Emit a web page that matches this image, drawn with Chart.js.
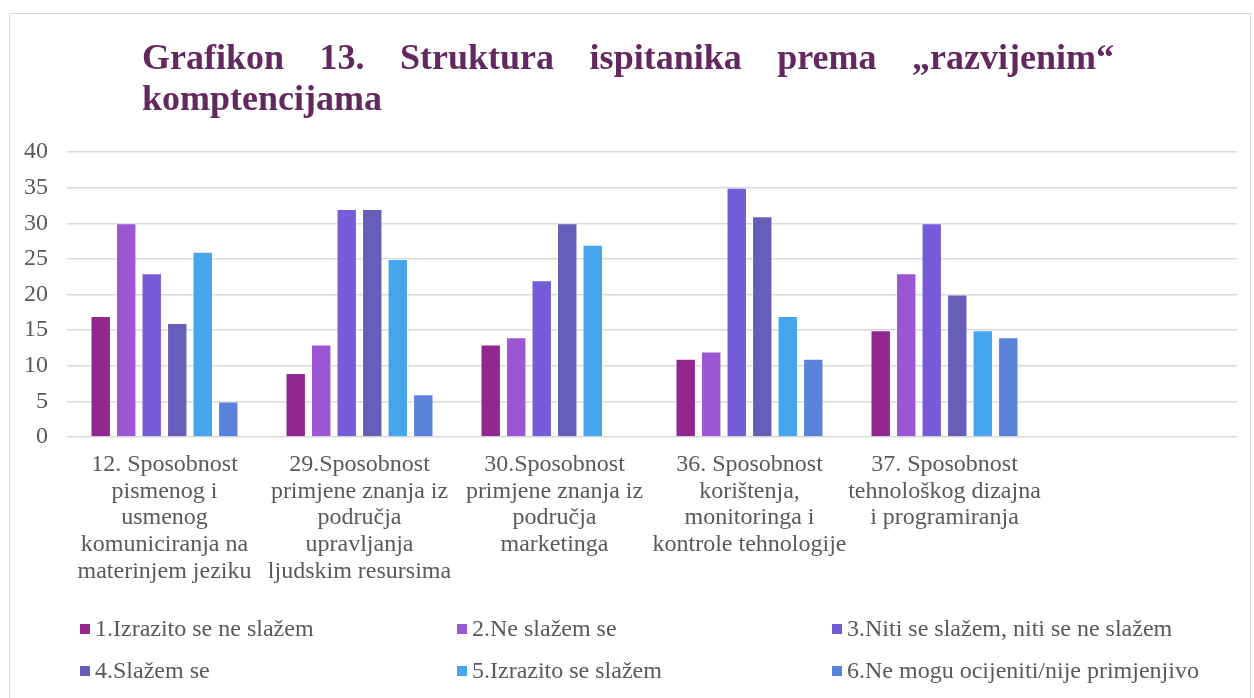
<!DOCTYPE html>
<html lang="sr">
<head>
    <meta charset="UTF-8" />
    <title>Grafikon 13</title>
    <script src="https://cdn.jsdelivr.net/npm/chart.js"></script>
    <style>
        * { box-sizing: border-box; margin: 0; padding: 0; }
        body { background: #fff; width: 1254px; height: 698px; overflow: hidden; }
        #wrap { position: relative; width: 1254px; height: 698px; }
        #frame {
            position: absolute; left: 9px; top: 13px; width: 1242px; height: 700px;
            border: 1.5px solid #d9d9d9;
        }
        canvas { position: absolute; left: 0; top: 0; }
        #title {
            position: absolute; left: 142px; top: 37px; width: 972px;
            font-family: 'Liberation Serif', 'Times New Roman', serif;
            font-weight: bold; font-size: 36px; line-height: 41px; color: #63295f;
        }
        #title .l1 { text-align: justify; text-align-last: justify; }
        #legend {
            position: absolute; left: 80px; top: 615px; width: 1140px;
            display: grid; grid-template-columns: 377px 375px 388px; row-gap: 15px;
            font-family: 'Liberation Serif', 'Times New Roman', serif;
            font-size: 24px; line-height: 27px; color: #595959;
            white-space: nowrap;
        }
        #legend span.box {
            display: inline-block; width: 10px; height: 10px; margin-right: 5px;
            vertical-align: 2px;
        }
    </style>
</head>
<body>
<div id="wrap">
    <div id="frame"></div>
    <canvas id="chart" width="1254" height="698"></canvas>
    <div id="title">
        <div class="l1">Grafikon 13. Struktura ispitanika prema „razvijenim“</div>
        <div>komptencijama</div>
    </div>
    <div id="legend"></div>
</div>

<script>
    // kategorije (zadnja je prazna, kao u originalu)
    const categories = [
        ['12. Sposobnost', 'pismenog i', 'usmenog', 'komuniciranja na', 'materinjem jeziku'],
        ['29.Sposobnost', 'primjene znanja iz', 'područja', 'upravljanja', 'ljudskim resursima'],
        ['30.Sposobnost', 'primjene znanja iz', 'područja', 'marketinga'],
        ['36. Sposobnost', 'korištenja,', 'monitoringa i', 'kontrole tehnologije'],
        ['37. Sposobnost', 'tehnološkog dizajna', 'i programiranja'],
        ''
    ];

    const seriesNames = [
        '1.Izrazito se ne slažem',
        '2.Ne slažem se',
        '3.Niti se slažem, niti se ne slažem',
        '4.Slažem se',
        '5.Izrazito se slažem',
        '6.Ne mogu ocijeniti/nije primjenjivo'
    ];

    const s1 = [17, 9, 13, 11, 15, null];
    const s2 = [30, 13, 14, 12, 23, null];
    const s3 = [23, 32, 22, 35, 30, null];
    const s4 = [16, 32, 30, 31, 20, null];
    const s5 = [26, 25, 27, 17, 15, null];
    const s6 = [5, 6, null, 11, 14, null];

    const yTicks = [0, 5, 10, 15, 20, 25, 30, 35, 40];

    const colors = ['#92278f', '#9b57d3', '#755dd9', '#665eb8', '#45a5ed', '#5982db'];

    const allSeries = [s1, s2, s3, s4, s5, s6];

    const datasets = allSeries.map((vals, i) => ({
        label: seriesNames[i],
        data: vals,
        backgroundColor: colors[i],
        borderColor: 'rgba(255,255,255,0.35)',
        borderWidth: 1,
        categoryPercentage: 0.785,
        barPercentage: 0.8
    }));

    const font = { family: "'Liberation Serif', 'Times New Roman', serif", size: 24, lineHeight: 1.12 };

    new Chart(document.getElementById('chart'), {
        type: 'bar',
        data: { labels: categories, datasets: datasets },
        options: {
            responsive: false,
            animation: false,
            layout: { padding: { left: 10, top: 152, right: 17, bottom: 0 } },
            plugins: {
                legend: { display: false },
                title: { display: false },
                tooltip: { enabled: false }
            },
            scales: {
                x: {
                    grid: { display: false, drawTicks: false },
                    border: { display: false },
                    ticks: {
                        color: '#595959', font: font, padding: 14,
                        maxRotation: 0, autoSkip: false
                    },
                    afterFit: (scale) => { scale.height = 261; }
                },
                y: {
                    min: 0, max: 40,
                    afterBuildTicks: (scale) => { scale.ticks = yTicks.map(v => ({ value: v })); },
                    grid: { color: '#d9d9d9', lineWidth: 1.5, drawTicks: false },
                    border: { display: false },
                    ticks: { color: '#595959', font: font, padding: 19 },
                    afterFit: (scale) => { scale.width = 57; }
                }
            }
        }
    });

    // legenda u tri kolone
    const legend = document.getElementById('legend');
    seriesNames.forEach((name, i) => {
        const item = document.createElement('div');
        const box = document.createElement('span');
        box.className = 'box';
        box.style.background = colors[i];
        item.appendChild(box);
        item.appendChild(document.createTextNode(name));
        legend.appendChild(item);
    });
</script>
</body>
</html>
